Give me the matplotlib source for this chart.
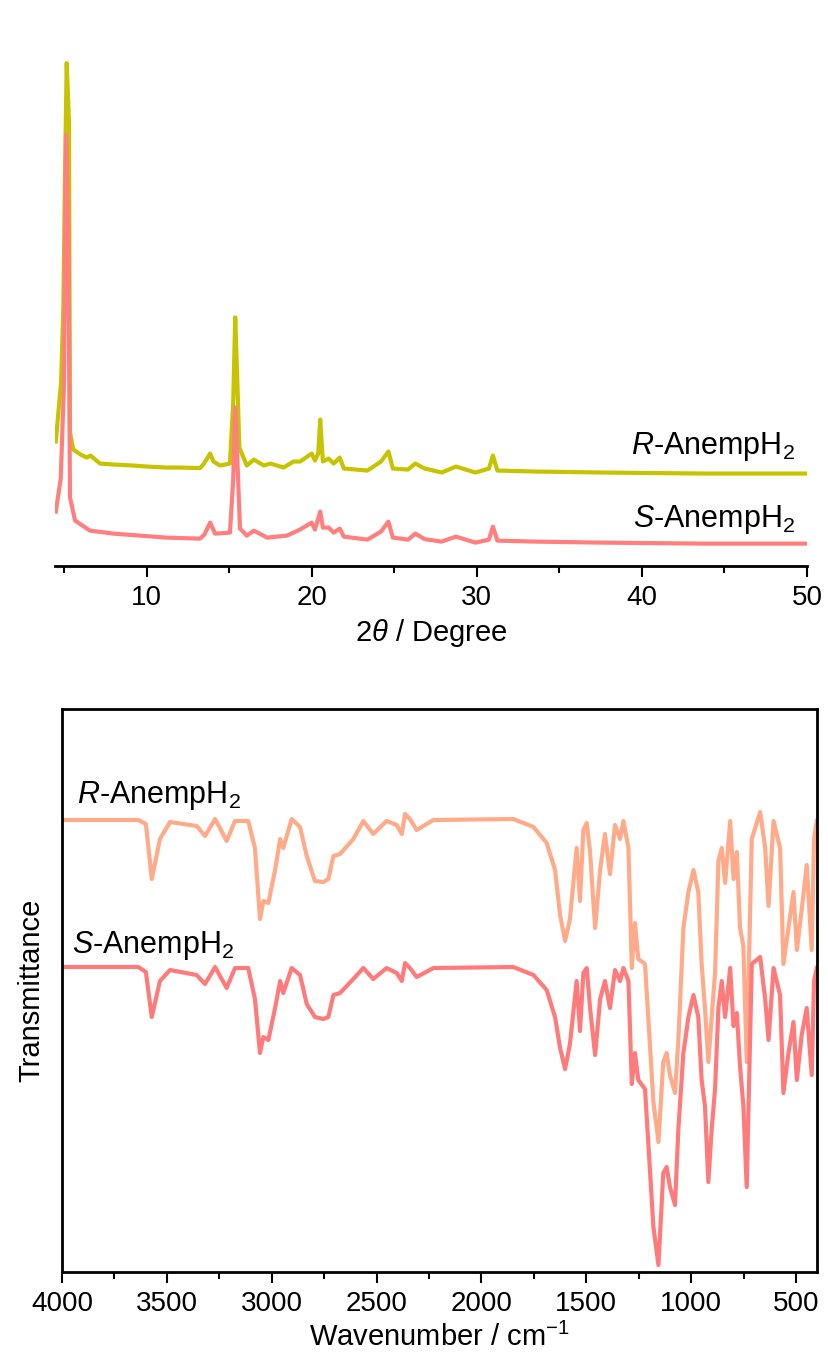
import matplotlib
matplotlib.use("Agg")
import matplotlib.pyplot as plt
from matplotlib.ticker import MultipleLocator

plt.rcParams['font.family'] = ['Liberation Sans', 'DejaVu Sans']
plt.rcParams['mathtext.fontset'] = 'custom'
plt.rcParams['mathtext.rm'] = 'Liberation Sans'
plt.rcParams['mathtext.it'] = 'Liberation Sans:italic'

# PXRD, R and S (2theta / deg, intensity a.u.)
xrd_r_2theta = [4.5, 4.82, 4.96, 5.05, 5.16, 5.3, 5.36, 5.56, 6.0, 6.37, 6.6, 7.18, 8.0, 9.2,
                10.0, 11.22, 12.0, 13.24, 13.48, 13.7, 13.85, 14.05, 14.45, 15.05, 15.25, 15.37,
                15.5, 15.62, 16.07, 16.5, 17.1, 17.5, 18.3, 18.9, 19.3, 20.0, 20.2, 20.4, 20.52,
                20.68, 21.03, 21.33, 21.7, 21.95, 23.38, 24.2, 24.65, 24.92, 25.84, 26.28, 26.85,
                27.88, 28.74, 29.92, 30.74, 30.98, 31.25, 33.6, 37.69, 43.82, 49.94]
xrd_r_int = [124, 183, 259, 380, 502, 443, 133, 116, 111, 108, 110, 102, 101, 100,
             99, 98, 98, 97.5, 102, 108, 112, 104, 100, 102, 164, 248,
             183, 118, 100, 106, 100, 102, 98, 104, 104, 112, 105, 112, 146,
             104, 107, 102, 108, 97, 95, 104, 114, 97, 96, 102, 97,
             93, 99, 93, 97, 110, 95, 94, 93, 92, 92]

xrd_s_2theta = [4.5, 4.8, 5.0, 5.12, 5.26, 5.36, 5.67, 6.57, 8.0, 11.2, 13.24, 13.5, 13.85,
                14.15, 15.05, 15.25, 15.37, 15.5, 15.66, 16.07, 16.5, 17.3, 18.5, 18.9, 19.29,
                20.0, 20.2, 20.52, 20.68, 21.03, 21.33, 21.7, 21.95, 23.38, 24.2, 24.65, 24.92,
                25.84, 26.28, 26.85, 27.88, 28.74, 29.92, 30.74, 30.98, 31.25, 33.6, 37.69,
                43.82, 49.94]
xrd_s_int = [54, 87, 183, 430, 336, 68, 45, 35, 32, 28, 27, 31, 43,
             32, 33, 87, 158, 106, 37, 30, 35, 28, 30, 33, 36,
             43, 36, 54, 38, 38, 33, 37, 29, 26, 34, 44, 28,
             26, 32, 26.5, 24, 29, 23, 26, 39, 25, 24, 23,
             22, 22]

# IR, R and S (wavenumber / cm-1, transmittance a.u.)
ir_wn = [4000, 3636, 3600, 3572, 3533, 3485, 3358, 3318, 3270, 3215, 3175, 3112, 3080, 3056,
         3040, 3016, 2984, 2960, 2945, 2905, 2865, 2833, 2794, 2754, 2730, 2706, 2674, 2611,
         2563, 2516, 2452, 2404, 2380, 2364, 2341, 2309, 2229, 1848, 1752, 1689, 1649, 1625,
         1601, 1578, 1546, 1530, 1514, 1498, 1482, 1458, 1434, 1411, 1387, 1363, 1339, 1323,
         1299, 1283, 1268, 1252, 1220, 1180, 1156, 1133, 1117, 1101, 1077, 1061, 1037, 1013,
         989, 966, 950, 934, 918, 902, 886, 870, 854, 838, 814, 798, 782, 767, 751, 735, 711,
         671, 647, 631, 607, 576, 560, 536, 512, 496, 473, 449, 425, 414, 401]
ir_r = [452, 452, 448, 393, 433, 450, 446, 436, 453, 431, 451, 451, 424, 353,
        371, 369, 402, 433, 424, 453, 445, 416, 391, 390, 393, 416, 418, 433,
        451, 438, 451, 447, 438, 458, 453, 442, 452, 453, 445, 429, 402, 357,
        331, 353, 424, 371, 442, 449, 420, 344, 402, 438, 398, 447, 433, 451,
        424, 304, 349, 313, 308, 170, 130, 210, 219, 197, 179, 232, 344, 380,
        402, 380, 308, 264, 210, 255, 299, 411, 424, 389, 451, 393, 420, 344, 326, 210, 433,
        460, 424, 366, 451, 424, 308, 344, 380, 322, 362, 407, 322, 433, 451]
ir_s = [305, 305, 300, 255, 291, 302, 297, 288, 305, 284, 304, 304, 273, 219,
        235, 232, 264, 291, 279, 304, 297, 268, 255, 253, 255, 277, 279, 293,
        304, 293, 304, 299, 291, 309, 304, 295, 304, 305, 297, 282, 255, 224,
        203, 228, 291, 241, 299, 304, 264, 217, 273, 291, 264, 302, 291, 304,
        291, 188, 219, 192, 183, 45, 7, 99, 105, 85, 67, 143, 219, 255,
        277, 255, 192, 166, 90, 143, 183, 264, 291, 255, 304, 246, 259, 206, 166, 85, 308,
        315, 273, 232, 304, 277, 179, 219, 250, 192, 237, 264, 197, 291, 304]

fig = plt.figure(figsize=(8.29, 13.65), dpi=100)

# top: PXRD
ax1 = fig.add_axes([0.0663, 0.5856, 0.907, 0.3997])
ax1.plot(xrd_r_2theta, xrd_r_int, color='#c8c300', lw=3)
ax1.plot(xrd_s_2theta, xrd_s_int, color='#ff7f7f', lw=3)
ax1.set_xlim(4.45, 50)
ax1.set_ylim(0, 545)
for s in ['left', 'top', 'right']:
    ax1.spines[s].set_visible(False)
ax1.spines['bottom'].set_linewidth(2)
ax1.set_yticks([])
ax1.xaxis.set_major_locator(MultipleLocator(10))
ax1.xaxis.set_minor_locator(MultipleLocator(5))
ax1.tick_params(axis='x', which='major', length=8, width=1.5, labelsize=20, pad=6)
ax1.tick_params(axis='x', which='minor', length=5, width=1.5)
ax1.set_xlabel(r'2$\mathit{\theta}$ / Degree', fontsize=21, labelpad=4)
ax1.text(49.3, 112, r'$\mathit{R}$-AnempH$_2$', fontsize=22, ha='right', va='baseline')
ax1.text(49.3, 39, r'$\mathit{S}$-AnempH$_2$', fontsize=22, ha='right', va='baseline')

# bottom: IR
ax2 = fig.add_axes([0.0748, 0.0681, 0.9107, 0.4125])
ax2.plot(ir_wn, ir_r, color='#ffab8a', lw=3)
ax2.plot(ir_wn, ir_s, color='#ff7b7b', lw=3)
ax2.set_xlim(4000, 400)
ax2.set_ylim(0, 563)
for s in ax2.spines.values():
    s.set_linewidth(2)
ax2.set_yticks([])
ax2.xaxis.set_major_locator(MultipleLocator(500))
ax2.xaxis.set_minor_locator(MultipleLocator(250))
ax2.tick_params(axis='x', which='major', length=8, width=1.5, labelsize=20, pad=6)
ax2.tick_params(axis='x', which='minor', length=5, width=1.5)
ax2.set_xlabel(r'Wavenumber / cm$^{-1}$', fontsize=21, labelpad=4)
ax2.set_ylabel('Transmittance', fontsize=21, labelpad=12)
ax2.text(3930, 469, r'$\mathit{R}$-AnempH$_2$', fontsize=22, ha='left', va='baseline')
ax2.text(3954, 319, r'$\mathit{S}$-AnempH$_2$', fontsize=22, ha='left', va='baseline')

fig.savefig('out.png', dpi=100)
